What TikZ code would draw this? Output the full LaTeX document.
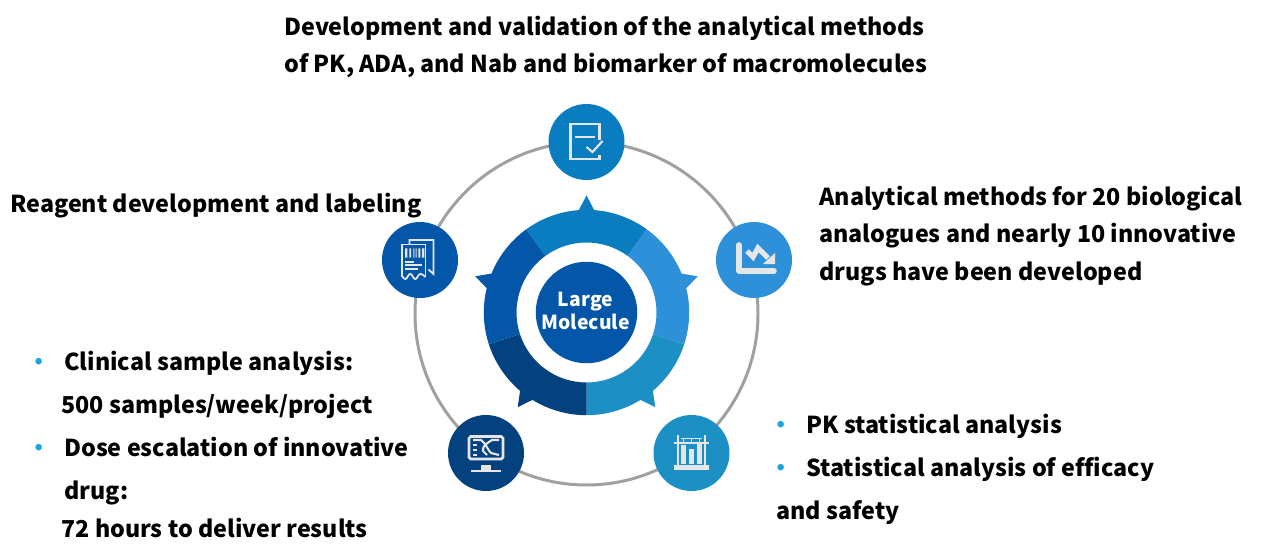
\documentclass[tikz,border=0pt]{standalone}
\usepackage{fontspec}
\setmainfont[Ligatures=NoCommon]{Noto Sans CJK SC}
\definecolor{bluetop}{HTML}{0A7DC0}
\definecolor{blueright}{HTML}{2E90D9}
\definecolor{bluelow}{HTML}{1C90C4}
\definecolor{bluedark}{HTML}{03417F}
\definecolor{blueleft}{HTML}{0456A8}
\definecolor{ringgray}{HTML}{A0A0A0}
\definecolor{icongray}{HTML}{E6E6E6}
\definecolor{dotblue}{HTML}{1AA5E0}
\tikzset{
  textline/.style={anchor=base west,inner sep=0pt,font=\fontsize{13.25}{16}\selectfont\bfseries},
  dotmark/.style={anchor=base,inner sep=0pt,text=dotblue,font=\fontsize{13.25}{16}\selectfont\bfseries},
  hubline/.style={anchor=base,inner sep=0pt,text=white,font=\fontsize{11}{14}\selectfont\bfseries},
  iconball/.style={circle,minimum size=1.52cm,inner sep=0pt},
  iconline/.style={draw=icongray,line width=1.2pt,x=.02cm,y=.02cm}
}
\begin{document}
\begin{tikzpicture}
    \useasboundingbox (0,0) rectangle (25.74,10.9);
    % outer ring
    \draw[ringgray,line width=1.7pt] (11.73,4.63) circle (3.43);
    % wreath
    \begin{scope}[shift={(11.73,4.65)}]
    \foreach \a/\c in {54/bluetop,-18/blueright,-90/bluelow,198/bluedark,126/blueleft}{
        \fill[\c] (\a:1.4)--(\a:2.054) arc[start angle=\a,end angle=\a+31.7,radius=2.054]
            --({\a+36}:2.34)--({\a+40.3}:2.054) arc[start angle=\a+40.3,end angle=\a+72,radius=2.054]
            --({\a+72}:1.4) arc[start angle=\a+72,end angle=\a,radius=1.4]--cycle;
    }
    \end{scope}
    \node[circle,fill=blueleft,minimum size=2.03cm,inner sep=0pt] (hub) at (11.73,4.65) {};
    \node[hubline] (hubup) at (11.71,4.78) {Large};
    \node[hubline] (hubdown) at (11.71,4.32) {Molecule};
    % icon circles
    \node[iconball,fill=bluetop] (balltop) at (11.73,8.06) {};
    \node[iconball,fill=blueright] (ballright) at (15.08,5.70) {};
    \node[iconball,fill=bluelow] (balllow) at (13.83,1.84) {};
    \node[iconball,fill=bluedark] (balldark) at (9.72,1.84) {};
    \node[iconball,fill=blueleft] (ballleft) at (8.40,5.70) {};
    % checklist
    \begin{scope}[shift={(balltop)},iconline]
    \draw (13,2)--(13,18)--(-16,18)--(-16,-17)--(13,-17)--(13,-13);
    \draw (-12,5)--(8,5);
    \draw (0,-5)--(6,-10)--(16,1);
    \end{scope}
    % chart
    \begin{scope}[shift={(ballright)},iconline]
    \draw[line width=3.2pt,line cap=round,line join=round] (-15,15)--(-15,-11)--(20,-11);
    \draw[line width=3pt] (-7,9)--(-1,3)--(4,12)--(14,2);
    \fill[icongray,draw=none] (21,7)--(21,-4)--(9,-4)--cycle;
    \end{scope}
    % test tubes
    \begin{scope}[shift={(balllow)},iconline]
    \fill[icongray,draw=none] (-17.7,-11.7) rectangle (17.3,-16.7);
    \fill[icongray,draw=none] (-17.7,11) rectangle (17.3,9.3);
    \fill[icongray,draw=none] (-14.3,18) rectangle (-12.3,-11.7);
    \fill[icongray,draw=none] (12.3,18) rectangle (14.3,-11.7);
    \fill[icongray,draw=none] (-10.7,8) rectangle (-6,-10.7);
    \fill[icongray,draw=none] (-2.3,4) rectangle (2.3,-10.7);
    \fill[icongray,draw=none] (5.3,11) rectangle (10,-10.7);
    \draw[line width=.5pt] (-10.7,15)--(10,15);
    \draw[line width=.5pt] (-8.3,15)--(-8.3,10) (0,15)--(0,10) (7.6,15)--(7.6,10);
    \end{scope}
    % monitor
    \begin{scope}[shift={(balldark)},iconline]
    \draw[rounded corners=1pt,line width=1.5pt] (-17,16.5)--(17,16.5)--(17,-6)--(-17,-6)--cycle;
    \draw (-13,13)--(-5,13) .. controls (0,10) and (2,2) .. (5,0)--(13,-2);
    \draw (13,13)--(6,13) .. controls (2,10) and (-4,8) .. (-3,2)--(1,-2);
    \draw (-13,8)--(-9,8) (-13,3)--(-9,3) (-13,-2)--(-9,-2);
    \fill[icongray,draw=none] (-5,-12) rectangle (5,-17);
    \draw[line width=1.5pt] (-15,-18)--(15,-18);
    \end{scope}
    % receipt
    \begin{scope}[shift={(ballleft)},iconline,line width=1pt]
    \draw (-10.5,15.5)--(-10.5,20)--(13.5,20)--(13.5,-14)--(8.5,-9.5);
    \draw (-18,-17)--(-18,15.5)--(5.5,15.5)--(5.5,-17);
    \draw (-18,-16) .. controls (-15,-20) and (-14,-20) .. (-12,-16) .. controls (-10,-13) and (-9,-13) .. (-7,-17)
        .. controls (-5,-20) and (-4,-20) .. (-2,-16) .. controls (0,-13) and (1,-13) .. (5.5,-17);
    \fill[icongray,draw=none] (-15,11.5) rectangle (-12.7,2.3) (-10.7,11.5) rectangle (-9,2.3)
        (-6.7,11.5) rectangle (-5.7,2.3) (-4.3,11.5) rectangle (-3.3,2.3)
        (-1.7,11.5) rectangle (.3,2.3) (2,11.5) rectangle (4.3,2.3);
    \draw (-15,-1.7)--(-5.7,-1.7) (-15,-5.3)--(1.7,-5.3) (-15,-9.3)--(-1.7,-9.3);
    \end{scope}
    % texts
    \node[textline] (topone) at (5.68,10.2) {Development and validation of the analytical methods};
    \node[textline] (toptwo) at (5.68,9.45) {of PK, ADA, and Nab and biomarker of macromolecules};
    \node[textline] (rightone) at (16.38,6.8) {Analytical methods for 20 biological};
    \node[textline] (righttwo) at (16.38,6.06) {analogues and nearly 10 innovative};
    \node[textline] (rightthree) at (16.38,5.3) {drugs have been developed};
    \node[textline] (reagent) at (.2,6.66) {Reagent development and labeling};
    \node[dotmark] (dotone) at (.78,3.5) {•};
    \node[textline] (clinical) at (1.28,3.5) {Clinical sample analysis:};
    \node[textline] (samples) at (1.22,2.64) {500 samples/week/project};
    \node[dotmark] (dottwo) at (.78,1.78) {•};
    \node[textline] (dose) at (1.28,1.78) {Dose escalation of innovative};
    \node[textline] (drug) at (1.28,.92) {drug:};
    \node[textline] (hours) at (1.22,.16) {72 hours to deliver results};
    \node[dotmark] (dotthree) at (15.62,2.24) {•};
    \node[textline] (pkstat) at (16.12,2.24) {PK statistical analysis};
    \node[dotmark] (dotfour) at (15.62,1.38) {•};
    \node[textline] (efficacy) at (16.12,1.38) {Statistical analysis of efficacy};
    \node[textline] (safety) at (15.52,.52) {and safety};
\end{tikzpicture}
\end{document}
